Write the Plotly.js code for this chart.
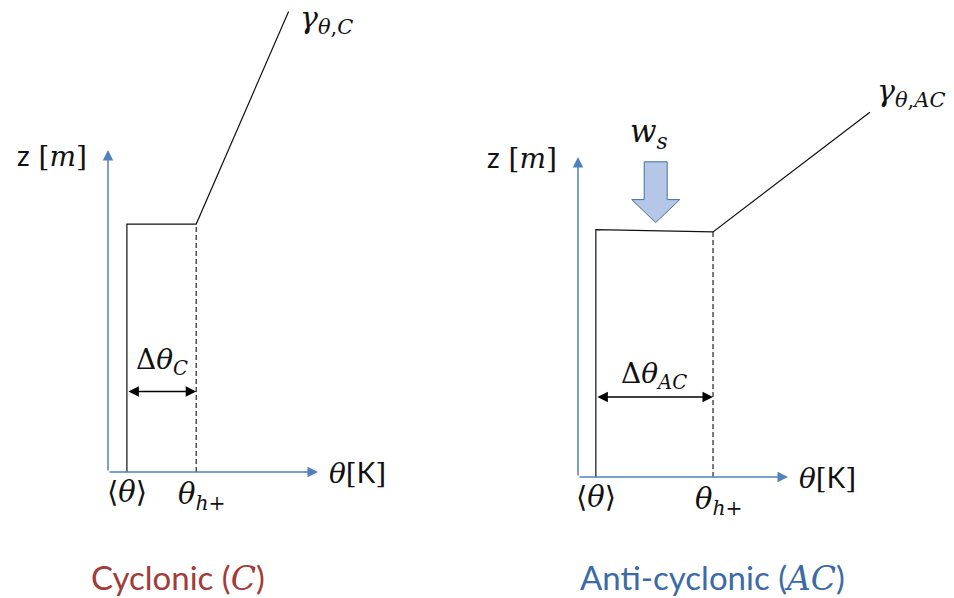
<!DOCTYPE html>
<html>
<head>
<meta charset="utf-8">
<script src="https://cdn.plot.ly/plotly-3.0.1.min.js"></script>
<style>html,body{margin:0;padding:0;background:#fff;}#plot{width:954px;height:598px;}</style>
</head>
<body>
<div id="plot"></div>
<script>
// ---- schematic values (theta and z in schematic units) ----
const panelNames   = ['C', 'AC'];
const panelWords   = ['Cyclonic', 'Anti-cyclonic'];
const thetaMean    = [0.9, 0.85];    // <theta>, mixed-layer mean
const thetaHplus   = [4.2, 6.43];    // theta_h+
const topLeftZ     = [7.7, 7.73];    // mixed-layer top at <theta>
const topRightZ    = [7.7, 7.66];    // mixed-layer top at theta_h+
const gammaTheta   = [8.6, 13.9];    // end of free-troposphere lapse line
const gammaZ       = [14.3, 11.4];
const axisLength   = [10, 10];       // theta axis and z axis length
const deltaArrowZ  = [2.5, 2.5];     // height of the Delta-theta arrow
const wsTheta      = [3.7];          // subsidence arrow (AC panel only)
const wsTop        = [9.85];
const wsTip        = [7.95];

// ---- layout geometry (pixels) ----
const W = 954, H = 598;
const geo = [
  {ox:108, oy:472, sx:21, sy:32.2, d:[0, 0.5], dLabelShift: 10, zShift: -5, gx: 9, gy: -8, title: 178},
  {ox:578, oy:477, sx:21, sy:32,   d:[0.5, 1], dLabelShift: 1,  zShift: 0,  gx: 5, gy: 20, title: 712}
];
const SERIF = 'DejaVu Serif';
const SANS = 'Lato';
const BLUE = '#4F81BD';
const titleColors = ['#A03C3A', '#3C6AA6'];

const traces = [];
const annotations = [];
const layout = {
  width: W, height: H,
  margin: {l:0, r:0, t:0, b:0},
  paper_bgcolor: '#ffffff', plot_bgcolor: 'rgba(0,0,0,0)',
  showlegend: false,
  annotations: annotations
};

geo.forEach((g, i) => {
  const xa = i === 0 ? 'x' : 'x2';
  const ya = i === 0 ? 'y' : 'y2';
  const xk = i === 0 ? 'xaxis' : 'xaxis2';
  const yk = i === 0 ? 'yaxis' : 'yaxis2';
  const x0 = g.d[0] * W, x1 = g.d[1] * W;
  layout[xk] = {domain: g.d, range: [(x0 - g.ox) / g.sx, (x1 - g.ox) / g.sx],
    visible: false, fixedrange: true, anchor: ya};
  layout[yk] = {domain: [0, 1], range: [(g.oy - H) / g.sy, g.oy / g.sy],
    visible: false, fixedrange: true, anchor: xa};

  // profile: mixed layer + inversion + free troposphere
  traces.push({x: [thetaMean[i], thetaMean[i], thetaHplus[i], gammaTheta[i]],
               y: [0, topLeftZ[i], topRightZ[i], gammaZ[i]],
               xaxis: xa, yaxis: ya, mode: 'lines', hoverinfo: 'skip',
               line: {color: '#111', width: 1.2}});
  // dashed theta_h+ line
  traces.push({x: [thetaHplus[i], thetaHplus[i]], y: [0, topRightZ[i]],
               xaxis: xa, yaxis: ya, mode: 'lines', hoverinfo: 'skip',
               line: {color: '#111', width: 1.1, dash: '5px,3px'}});

  // blue axes with arrowheads
  annotations.push({xref: xa, yref: ya, axref: xa, ayref: ya,
    x: axisLength[i], y: 0, ax: 0, ay: 0, text: '', showarrow: true,
    arrowhead: 2, arrowsize: 1.4, arrowwidth: 1.5, arrowcolor: BLUE, standoff: 0});
  annotations.push({xref: xa, yref: ya, axref: xa, ayref: ya,
    x: 0, y: axisLength[i], ax: 0, ay: 0, text: '', showarrow: true,
    arrowhead: 2, arrowsize: 1.4, arrowwidth: 1.5, arrowcolor: BLUE, standoff: 0});

  // double arrow Delta theta
  annotations.push({xref: xa, yref: ya, axref: xa, ayref: ya,
    x: thetaHplus[i], y: deltaArrowZ[i], ax: thetaMean[i], ay: deltaArrowZ[i],
    text: '', showarrow: true, arrowside: 'end+start',
    arrowhead: 2, arrowsize: 1.4, arrowwidth: 1.5, arrowcolor: '#000', standoff: 0, startstandoff: 0});

  const f = (s) => ({family: SERIF, size: s, color: '#111'});
  // Delta theta label
  annotations.push({xref: xa, yref: ya, showarrow: false,
    x: (thetaMean[i] + thetaHplus[i]) / 2, y: deltaArrowZ[i],
    xanchor: 'center', yanchor: 'bottom', yshift: g.dLabelShift,
    text: 'Δ<i>θ</i><sub><i>' + panelNames[i] + '</i></sub>', font: f(28)});
  // <theta>
  annotations.push({xref: xa, yref: ya, showarrow: false,
    x: thetaMean[i], y: 0, xanchor: 'center', yanchor: 'top', yshift: -1,
    text: '⟨<i>θ</i>⟩', font: f(29)});
  // theta_h+
  annotations.push({xref: xa, yref: ya, showarrow: false,
    x: thetaHplus[i], y: 0, xanchor: 'left', yanchor: 'top', xshift: -20, yshift: -3,
    text: '<i>θ</i><sub><i>h</i>+</sub>', font: f(29)});
  // theta [K]
  annotations.push({xref: xa, yref: ya, showarrow: false,
    x: axisLength[i], y: 0, xanchor: 'left', yanchor: 'middle', xshift: 9, yshift: 0,
    text: '<i>θ</i>[<span style="font-family:' + SANS + '">K</span>]', font: f(28)});
  // z [m]
  annotations.push({xref: xa, yref: ya, showarrow: false,
    x: 0, y: axisLength[i], xanchor: 'right', yanchor: 'middle', xshift: -19, yshift: g.zShift,
    text: '<span style="font-family:' + SANS + '">z</span> [<i>m</i>]', font: f(28)});
  // gamma label
  annotations.push({xref: xa, yref: ya, showarrow: false,
    x: gammaTheta[i], y: gammaZ[i], xanchor: 'left', yanchor: 'middle',
    xshift: g.gx, yshift: g.gy,
    text: '<i>γ</i><sub><i>θ</i>,<i>' + panelNames[i] + '</i></sub>', font: f(30)});
  // panel title
  annotations.push({xref: 'paper', yref: 'paper', showarrow: false,
    x: g.title / W, y: 1 - 577 / H, xanchor: 'center', yanchor: 'middle',
    text: panelWords[i] + ' (<span style="font-family:' + SERIF + '"><i>' + panelNames[i] + '</i></span>)',
    font: {family: SANS, size: 33, color: titleColors[i]}});
});

// subsidence arrow (AC panel)
{
  const g = geo[1];
  const hw = 11.5 / g.sx, hh = 24 / g.sx, headLen = 23 / g.sy;
  const c = wsTheta[0], t = wsTop[0], tip = wsTip[0], b = tip + headLen;
  traces.push({x: [c - hw, c + hw, c + hw, c + hh, c, c - hh, c - hw, c - hw],
               y: [t, t, b, b, tip, b, b, t],
               xaxis: 'x2', yaxis: 'y2', mode: 'lines', fill: 'toself', hoverinfo: 'skip',
               fillcolor: '#B4C7E7', line: {color: '#41719C', width: 1}});
  annotations.push({xref: 'x2', yref: 'y2', showarrow: false,
    x: c, y: t, xanchor: 'center', yanchor: 'bottom', xshift: -7, yshift: 6,
    text: '<i>w</i><sub><i>s</i></sub>', font: {family: SERIF, size: 31, color: '#111'}});
}

Plotly.newPlot('plot', traces, layout, {displayModeBar: false, staticPlot: true});
</script>
</body>
</html>
